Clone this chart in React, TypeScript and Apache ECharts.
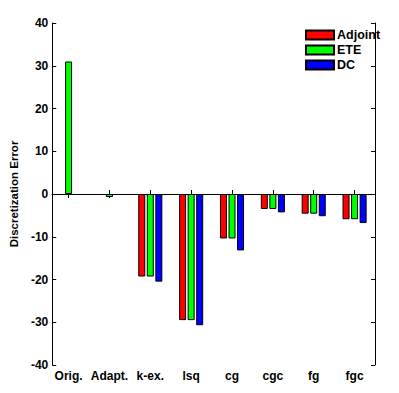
import React, { useEffect, useRef } from "react";
import * as echarts from "echarts";

const categories = ["Orig.", "Adapt.", "k-ex.", "lsq", "cg", "cgc", "fg", "fgc"];
const adjoint = [null, null, -19.3, -29.5, -10.4, -3.5, -4.6, -5.9];
const ete = [31, -0.7, -19.3, -29.5, -10.4, -3.5, -4.6, -5.9];
const dc = [null, null, -20.5, -30.7, -13.2, -4.3, -5.2, -6.8];
const seriesNames = ["Adjoint", "ETE", "DC"];
const seriesColors = ["#ff0000", "#00ff00", "#0000ff"];
const positions = [1, 2, 3, 4, 5, 6, 7, 8];

const FONT = "'Liberation Sans', Arial, sans-serif";

export default function App() {
  const ref = useRef<HTMLDivElement>(null);
  useEffect(() => {
    document.body.style.margin = "0";
    if (!ref.current) return;
    const chart = echarts.init(ref.current, undefined, { renderer: "svg" });
    const allData = [adjoint, ete, dc];
    const axisLine = { show: true, lineStyle: { color: "#000", width: 1 } };
    const labelStyle = { color: "#000", fontFamily: FONT, fontSize: 12, fontWeight: "bold" as const };
    chart.setOption({
      animation: false,
      backgroundColor: "#fff",
      grid: { left: 49.5, right: 24, top: 23, bottom: 28 },
      legend: {
        data: seriesNames.map((n) => ({ name: n, icon: "rect" })),
        orient: "vertical",
        left: 300,
        top: 23,
        padding: 5,
        itemWidth: 28,
        itemHeight: 9,
        itemGap: 1,
        textStyle: { ...labelStyle, fontSize: 12.5, lineHeight: 14, padding: [0, 0, 0, -2] },
        selectedMode: false,
      },
      xAxis: [
        {
          type: "value",
          min: 0.6,
          max: 8.5,
          position: "bottom",
          axisLine,
          splitLine: { show: false },
          axisTick: { show: true, inside: true, length: 4, customValues: positions, lineStyle: { color: "#000" } },
          axisLabel: {
            ...labelStyle,
            margin: 5,
            customValues: positions,
            formatter: (v: number) => categories[Math.round(v) - 1] ?? "",
          },
        },
        {
          type: "value",
          min: 0.6,
          max: 8.5,
          position: "top",
          axisLine,
          splitLine: { show: false },
          axisTick: { show: true, inside: true, length: 4, customValues: positions, lineStyle: { color: "#000" } },
          axisLabel: { show: false, customValues: positions },
        },
      ],
      yAxis: [
        {
          type: "value",
          min: -40,
          max: 40,
          interval: 10,
          position: "left",
          name: "Discretization Error",
          nameLocation: "middle",
          nameGap: 23,
          nameTextStyle: { ...labelStyle, fontSize: 11.5 },
          axisLine,
          splitLine: { show: false },
          axisTick: { show: true, inside: true, length: 4, lineStyle: { color: "#000" } },
          axisLabel: { ...labelStyle, margin: 4 },
        },
        {
          type: "value",
          min: -40,
          max: 40,
          interval: 10,
          position: "right",
          axisLine,
          splitLine: { show: false },
          axisTick: { show: true, inside: true, length: 4, lineStyle: { color: "#000" } },
          axisLabel: { show: false },
        },
      ],
      series: seriesNames.map((name, si) => ({
        name,
        type: "bar",
        xAxisIndex: 0,
        yAxisIndex: 0,
        barWidth: 7,
        barGap: "22%",
        data: positions.map((p, i) => [p, allData[si][i]]),
        itemStyle: { color: seriesColors[si], borderColor: "#000", borderWidth: 1 },
        markLine:
          si === 0
            ? {
                silent: true,
                symbol: "none",
                label: { show: false },
                lineStyle: { color: "#000", width: 1, type: "solid" },
                data: [{ yAxis: 0 }],
              }
            : undefined,
      })),
    });
    return () => chart.dispose();
  }, []);
  return <div ref={ref} style={{ width: 399, height: 393 }} />;
}
